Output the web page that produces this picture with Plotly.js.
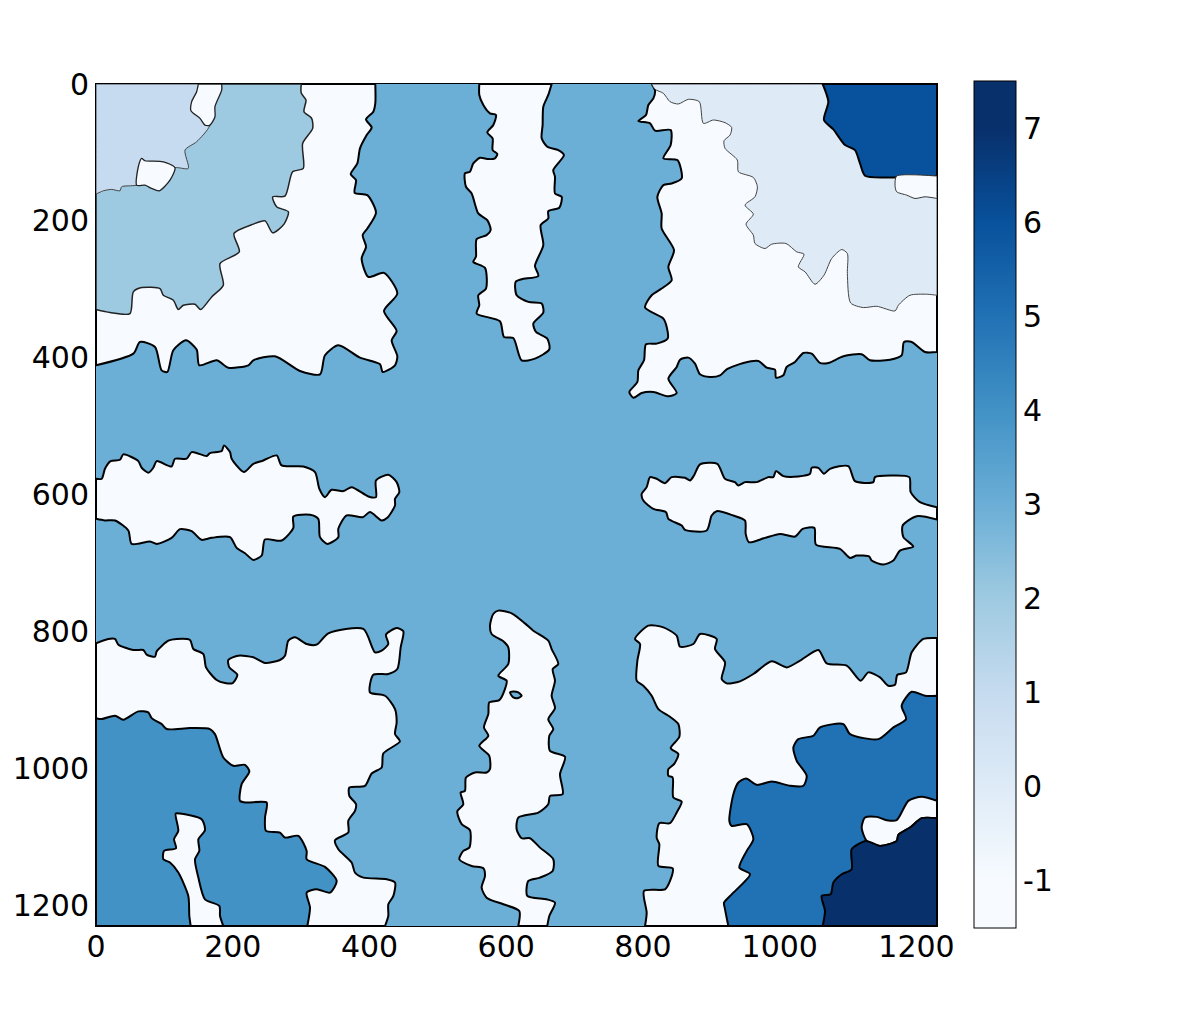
<!DOCTYPE html>
<html>
<head>
<meta charset="utf-8">
<script src="https://cdn.plot.ly/plotly-3.0.1.min.js"></script>
<style>
  html, body { margin: 0; padding: 0; background: #fff; }
</style>
</head>
<body>
<div id="chart" style="width:1196px;height:1009px"></div>
<script>
// Region outlines, as [x, y] in image units
const whiteTopLeft = [[408.5,0],[408.5,28],[405.6,40.4],[394.9,51.7],[403.2,63.4],[395.9,74.6],[386.1,94],[382.2,116],[372.5,131.6],[380.3,140.4],[378.3,158.9],[396.8,162.3],[409.5,188.2],[396.8,211.1],[390,220.8],[394.9,237.9],[388.5,254.9],[398.3,281.8],[421.2,275.9],[440.7,306.1],[421.2,331.5],[439.7,360.7],[432.4,374.4],[440.7,397.8],[437.3,410.9],[419.3,420.7],[415.4,409.5],[386.1,399.7],[354.4,381.7],[334.9,396.3],[327.6,424.1],[298.4,419.2],[261.8,397.8],[230.1,403.6],[222.8,410.9],[193.5,414.4],[176.5,403.6],[151.1,410.9],[147.2,388],[131.6,374.4],[113.1,389],[104.3,420.7],[96,418.3],[86.3,384.1],[64.4,376.8],[54.6,393.9],[0,410.9],[0,0]];
const level2TopLeft = [[0,329.5],[20.5,333.9],[49.7,335.4],[54.6,303.7],[66.8,297.4],[93.6,298.8],[98.5,308.6],[113.1,315.9],[120.4,329.5],[127.7,323.2],[144.8,321.7],[153.1,329.5],[169.2,311],[186.2,293.9],[181.4,262.3],[209.6,245.2],[201.8,218.4],[230.1,204.7],[247.2,199.9],[258.4,217.4],[275,204.7],[281.3,186.7],[264.2,179.4],[258.4,164.8],[276.4,163.8],[287.6,128.2],[303.2,123.3],[302.2,86.8],[316.9,64.8],[315.4,50.2],[304.2,40.4],[307.1,23.4],[300.3,13.6],[300.3,0],[0,0]];
const level1TopLeft = [[0,0],[166.7,0],[166.7,60],[147.2,84.3],[130.2,96.5],[135,123.3],[115.5,122.3],[59.5,147.7],[37.5,150.1],[35.1,156],[22.9,154],[10.7,156],[0,160.9]];
const whiteNotch = [[149.7,0],[147.2,11.2],[139.9,25.8],[138.9,39],[152.1,50.2],[159.4,60],[166.7,60],[174,47.8],[174,33.1],[183.8,8.8],[183.8,0]];
const whiteIsland = [[66.8,108.7],[71.7,112.1],[98.5,113.6],[115.5,122.3],[108.2,140.4],[92.6,156],[81.4,152.6],[71.7,147.7],[59.5,147.7],[61.9,120.9]];

const whiteTopRight = [[812.7,0],[817.6,9.7],[815.2,20.9],[807.8,30.7],[804.4,45.3],[793.2,54.1],[810.3,57.5],[817.6,68.2],[840.5,67.3],[840.5,89.2],[829.8,108.7],[850.3,111.1],[856.6,137.9],[842,145.3],[829.8,147.7],[821,164.8],[827.3,189.1],[827.3,211.1],[845.4,242.8],[837.1,267.1],[842,286.6],[827.3,298.8],[812.7,308.6],[803,326.6],[829.8,342.7],[834.7,354.9],[836.1,371.9],[820,379.3],[804.4,380.2],[801.5,403.6],[793.2,418.3],[791.8,435.3],[780,449.9],[785.9,458.2],[798.1,451.4],[815.2,449.9],[837.1,456.3],[849.3,451.4],[837.1,430.4],[849.3,413.4],[854.2,402.7],[866.3,399.7],[876.1,408.5],[883.4,424.1],[898,428],[912.7,425.6],[922.4,416.8],[946.8,407.5],[968.7,404.6],[980.9,414.4],[993.1,417.3],[994.5,428.9],[1005.3,425.6],[1010.1,413.4],[1022.3,406],[1034.5,392.9],[1046.7,393.9],[1058.9,407.5],[1071.1,407.5],[1093,397.8],[1119.8,394.9],[1132,403.6],[1161.3,402.7],[1178.3,396.3],[1181.7,376.8],[1193,376.8],[1212.5,391.4],[1230,391.4],[1230,0]];
const level0TopRight = [[812.7,0],[817.6,7.8],[829.8,13.6],[839.5,25.8],[851.7,29.2],[866.3,22.4],[882.4,25.8],[888.3,57.5],[902.9,52.6],[920,56.5],[929.7,63.4],[927.3,74.6],[918.5,82.9],[920,94],[938,111.1],[939.5,128.2],[961.4,136.5],[967.3,150.1],[963.8,164.8],[949.2,176.9],[961.4,190.1],[950.7,204.7],[961.4,220.8],[963.8,233],[978.5,240.3],[988.2,234],[1009.2,233],[1024.8,245.2],[1035.5,248.6],[1027.2,267.1],[1037,274.4],[1051.6,292.5],[1064.7,279.3],[1076,254.9],[1090.6,241.8],[1098.9,247.6],[1098.9,276.9],[1103.7,319.8],[1122.3,326.6],[1141.8,324.7],[1168.6,331.5],[1173.5,323.2],[1190.5,308.6],[1214.9,307.1],[1230,308.6],[1230,0]];
const level6TopRight = [[1062.8,0],[1071.1,25.8],[1064.7,52.6],[1078.4,66.3],[1095.5,89.2],[1110.1,96.5],[1117.4,116],[1124.7,134],[1156.4,136.5],[1230,134.5],[1230,0]];
const whiteStripTop = [[1171,134.5],[1168.6,147.7],[1171,157.4],[1185.6,162.3],[1197.8,167.2],[1212.5,164.8],[1230,167.2],[1230,134.5]];

const whiteBottomLeft = [[0,817],[18,810.7],[27.8,810.7],[32.7,819],[54.6,826.8],[69.2,826.8],[74.1,833.6],[86.3,836.6],[88.7,828.8],[105.8,813.2],[118,810.7],[137.5,812.2],[142.4,825.3],[157,832.7],[160.9,852.2],[176.5,870.7],[188.7,875.1],[199.9,875.1],[206.7,862.9],[195,852.2],[193.5,841.4],[208.2,835.1],[230.1,837.5],[247.2,845.8],[269.1,841.4],[276.4,835.1],[281.3,813.2],[291,808.3],[308.1,818],[322.7,819],[339.8,802.4],[391,796.1],[408,830.2],[417.8,827.8],[427.5,818],[424.1,804.4],[439.7,794.6],[449.5,799.5],[445.6,822.9],[440.7,854.6],[427.5,861.9],[405.6,862.9],[400.7,888.7],[422.7,893.6],[437.3,913.1],[439.7,932.6],[437.3,949.7],[444.6,960.4],[420.2,977.9],[417.8,998.4],[403.2,1007.2],[393.4,1025.2],[370.5,1027.7],[370.5,1039.8],[380.3,1052],[378.8,1061.8],[369,1076.4],[369,1093.5],[349.5,1104.7],[354.4,1117.8],[373.9,1137.3],[378.8,1152],[391,1159.3],[425.1,1161.7],[437.3,1166.6],[434.9,1186.1],[427.5,1198.3],[427.5,1215.3],[422.7,1230],[0,1230]];
const level4BottomLeft = [[0,926.3],[8.3,927.7],[27.8,922.8],[40,928.7],[61.9,916.5],[76.5,918],[81.4,926.3],[96,935],[103.4,942.3],[137.5,940.9],[166.7,942.3],[174,949.7],[186.2,983.8],[200.9,996],[217.9,994.5],[224.3,1004.3],[213,1022.8],[210.6,1047.2],[220.4,1049.6],[249.6,1049.6],[247.2,1071.5],[248.6,1091],[269.1,1093.5],[276.4,1100.8],[295.9,1098.3],[308.1,1120.3],[308.1,1132.5],[334.9,1143.7],[352,1164.2],[342.2,1181.2],[322.7,1176.3],[308.1,1181.2],[313,1203.1],[309.1,1230],[0,1230]];
const whiteSliver = [[116.5,1065.7],[122.9,1065.7],[154.5,1074],[159.4,1090],[149.7,1103.2],[151.1,1120.3],[144.8,1132.5],[149.7,1159.3],[159.4,1191],[180.4,1200.7],[181.4,1215.3],[186.2,1230],[138.5,1230],[136.5,1215.3],[135,1186.1],[120.4,1152],[108.2,1137.3],[98.5,1132.5],[99.5,1120.3],[117,1116.4],[114.1,1103.2],[120.4,1091]];

const whiteBottomRight = [[803,1230],[805.4,1210.5],[801.5,1178.8],[832.2,1176.4],[839.5,1164.2],[843.4,1145.7],[822.5,1142.2],[823.9,1110.6],[820,1100.8],[823.9,1079.8],[839.5,1079.8],[849.3,1064.2],[856.6,1048.2],[844.4,1042.3],[843.4,1013.1],[837.1,1010.6],[837.1,1000.9],[845.4,993.6],[851.7,978.9],[840.5,970.2],[853.2,953.6],[851.7,935],[839.5,924.3],[822.5,913.1],[812.7,893.6],[800.5,879],[790.8,871.7],[791.8,842.4],[795.7,818],[788.3,810.7],[807.8,791.2],[829.8,793.7],[849.3,805.9],[854.2,822],[873.7,818.1],[883.4,803.4],[907.8,810.7],[905.3,825.4],[920,844.9],[915.1,869.2],[922.4,875.6],[941.9,872.6],[961.4,861.9],[988.2,843.4],[1010.1,852.2],[1029.7,842.4],[1056.5,826.8],[1068.7,846.3],[1097.9,849.7],[1118.4,871.7],[1129.6,859.5],[1146.7,866.8],[1158.8,879],[1168.6,877.5],[1172,862.9],[1184.7,859.5],[1193,830.2],[1210,810.7],[1230,809.3],[1230,1230]];
const level5BottomRight = [[924.8,1230],[920,1205.6],[918.5,1195.9],[929.7,1183.7],[956.5,1154.4],[940.9,1144.7],[951.7,1120.3],[961.4,1103.2],[951.7,1081.3],[929.7,1083.7],[926.3,1076.4],[932.2,1037.4],[939.5,1020.4],[950.7,1014.5],[966.3,1023.8],[988.2,1018.9],[1015,1025.2],[1034.5,1025.2],[1039.4,1010.6],[1024.8,988.7],[1019.9,969.2],[1027.2,957],[1049.2,952.1],[1058.9,939.9],[1093,935],[1102.8,949.7],[1144.2,957],[1166.2,939.9],[1184.7,927.7],[1178.3,908.2],[1193,887.8],[1212.5,893.6],[1230,893.6],[1230,1230]];
const whiteStripBottom = [[1124.7,1071.6],[1141.8,1070.6],[1156.4,1075.4],[1171,1075.4],[1188.1,1047.2],[1207.6,1041.3],[1230,1047.2],[1230,1072.5],[1207.6,1072.5],[1190.5,1086.2],[1173.5,1096.9],[1171,1105.7],[1146.7,1113],[1127.2,1105.7],[1119.8,1086.2]];
const level7BottomRight = [[1062.8,1230],[1066.2,1208],[1061.3,1186.1],[1074.5,1183.7],[1078.4,1166.6],[1090.6,1154.4],[1105.2,1147.1],[1105.2,1117.9],[1126.2,1105.7],[1146.7,1113],[1171,1105.7],[1173.5,1096.9],[1190.5,1086.2],[1207.6,1072.5],[1230,1072.5],[1230,1230]];

const whiteFingerTop = [[560.6,0],[560.6,16],[566.5,30.7],[576.2,42.9],[585,45.3],[581.1,59.9],[572.3,70.7],[580.1,79.4],[580.1,96.5],[586.9,102.3],[583.5,108.7],[573.8,109.7],[561.6,107.7],[551.8,116],[546.9,128.2],[539.6,130.6],[541.1,150.1],[549.4,159.9],[559.1,189.1],[572.3,198.9],[577.2,213.5],[571.3,220.8],[556.7,226.7],[555.7,252.5],[551.8,259.8],[568.9,268.6],[570.4,298.8],[559.1,308.6],[560.6,323.2],[556.7,335.4],[590.8,346.6],[596.7,369.5],[610.3,371],[622.5,403.6],[642,401.2],[663,387.5],[660,371.9],[643.5,362.2],[639.6,350],[654.2,333.9],[651.8,320.7],[632.3,318.3],[615.2,308.6],[613.7,289.1],[622.5,285.2],[646.9,280.3],[642,265.7],[654.2,235.4],[650.3,206.2],[661.5,196.4],[661.5,185.7],[677.6,180.8],[681,164.7],[671.3,159.9],[671.3,135.5],[668.8,125.7],[684.4,103.8],[676.1,96.5],[660,91.6],[651.8,79.4],[653.2,59.9],[654.2,33.1],[661.5,16],[666.4,0]];
const whiteFingerBottom = [[581,774.2],[576.2,791.3],[578.6,803.5],[595.7,814.2],[603,823],[603,847.3],[588.4,864.4],[600.6,871.7],[598.1,883.9],[589.9,900],[575.2,903.4],[573.8,920.5],[567.4,940],[573.8,952.1],[560.6,966.8],[575.2,981.4],[576.2,1000.9],[571.3,1005.8],[554.3,1005.8],[541.1,1013.1],[539.6,1032.6],[533.3,1035],[537.2,1052.1],[528.4,1062.8],[534.8,1081.3],[547,1090.1],[546,1115.5],[537.2,1120.3],[531.4,1132.5],[549.4,1142.3],[566.5,1145.7],[568.9,1156.9],[564,1174],[571.3,1188.6],[595.7,1198.3],[619.1,1208.1],[617.6,1230],[660,1230],[663,1215.4],[671.3,1195.9],[659,1191],[630.8,1186.1],[632.3,1164.2],[649.3,1159.3],[667.9,1149.6],[668.8,1132.5],[649.3,1115.5],[634.7,1101.8],[622.5,1101.8],[615.2,1088.6],[617.6,1071.6],[646.9,1064.3],[661.5,1052.1],[664,1039.9],[682.5,1037.5],[678.6,1008.2],[686,982.9],[664,974.1],[663,952.1],[668.8,942.4],[661.5,927.8],[671.3,911.7],[666.4,893.6],[671.3,871.7],[667.9,854.6],[676.1,847.3],[666.4,825.4],[661.5,813.2],[639.6,798.6],[627.4,787.9],[607.9,773.2],[588.4,769.3]];
const level3Speck = [[605.5,888.8],[610.3,887.3],[617.6,888.8],[622.5,893.6],[617.6,897],[610.3,896.1]];

const whiteFingerLeft = [[0,576.7],[8.3,576.7],[13.1,562.1],[21.4,550.9],[35.1,548.9],[40,541.1],[61.9,550.9],[66.8,560.6],[76.5,567.9],[83.8,560.6],[88.7,550.9],[110.6,558.7],[115.5,547.4],[132.6,547.4],[139.9,537.7],[161.8,543.5],[166.7,539.2],[183.8,536.2],[187.2,527.9],[196,537.7],[198.4,547.4],[216.4,566.9],[230.1,554.8],[244.7,549.9],[264.2,542.6],[271.5,557.2],[303.2,558.7],[320.3,566.9],[326.6,591.3],[334.9,603.5],[344.6,592.8],[361.7,594.7],[373.9,588.9],[398.3,602.5],[409.5,603.5],[409.5,579.1],[427.5,570.8],[439.7,581.6],[443.6,596.2],[437.3,605.9],[437.3,615.7],[426,633.7],[417.8,637.6],[400.7,625.4],[390,632.8],[366.6,630.3],[354.4,649.8],[354.4,662],[338.3,671.8],[327.6,662],[325.1,635.2],[313,629.3],[288.6,631.8],[288.6,648.4],[271.5,666.9],[247.1,665.4],[242.3,688.8],[230.1,695.2],[217.9,685.4],[205.7,677.6],[196,662],[169.1,663],[154.5,665.9],[139.9,653.2],[122.8,650.3],[110.6,663],[88.7,671.8],[79,668.3],[52.1,671.8],[47.3,652.3],[27.8,637.6],[13.1,637.6],[0,635.2]];
const whiteFingerRight = [[810.3,574.3],[820,576.7],[832.2,583.1],[841.9,574.3],[861.4,575.3],[868.8,579.2],[874.6,571.9],[883.4,555.8],[908.7,554.8],[919.9,576.7],[934.6,581.6],[939.4,586.5],[949.2,581.6],[966.3,581.6],[983.3,574.3],[990.6,574.3],[994.5,565.5],[1005.3,572.8],[1027.2,573.3],[1044.3,569.4],[1046.7,560.7],[1056.4,560.7],[1064.7,569.4],[1073.5,562.1],[1100.3,558.2],[1110.1,580.2],[1136.9,581.6],[1139.3,574.3],[1161.3,571.9],[1189.5,574.3],[1191.5,596.2],[1205.1,610.9],[1230,618.2],[1230,636.2],[1200.3,631.3],[1179.8,645],[1180.8,662],[1195.4,675.7],[1175.9,681.6],[1166.1,696.2],[1151.5,702],[1134.4,696.2],[1131,690.3],[1112.5,688.9],[1102.8,692.3],[1088.1,679.1],[1053,672.8],[1050.6,648.4],[1033.5,649.9],[1022.3,661.1],[1000.4,657.2],[978.4,663],[955,669.4],[950.2,657.2],[949.2,637.7],[932.1,630.4],[907.8,624],[900.4,630.4],[893.1,652.3],[861.4,651.3],[856.6,645],[837.1,635.2],[833.7,625.5],[815.1,620.6],[800.5,608.4],[798.1,598.7],[805.4,588.9]];

const imageSize = 1230;
const backgroundLabel = [[3]];
const labels = [-1, 0, 1, 2, 3, 4, 5, 6, 7];
const blues = ['#f7fbff', '#deebf7', '#c6dbef', '#9ecae1', '#6baed6', '#4292c6', '#2171b5', '#08519c', '#08306b'];
const axisTicks = [0, 200, 400, 600, 800, 1000, 1200];

const zMin = -1.5;
const zMax = 7.5;

const colorOf = (label) => blues[labels.indexOf(label)];

// Colorbar runs from -1.5 to 7.5, each label sits on its own colour
const colorscale = [[0, blues[0]]];
labels.forEach((label, i) => colorscale.push([(label - zMin) / (zMax - zMin), blues[i]]));
colorscale.push([1, blues[blues.length - 1]]);

// Points on the image border are doubled so the spline keeps a sharp corner there
function onBorder(p) {
    return p[0] === 0 || p[1] === 0 || p[0] === imageSize || p[1] === imageSize;
}

function regionTrace(points, label, lineWidth, lineColor) {
    const closed = [];
    points.concat([points[0]]).forEach(p => {
        closed.push(p);
        if (onBorder(p)) closed.push(p);
    });
    return {
        x: closed.map(p => p[0]),
        y: closed.map(p => p[1]),
        type: 'scatter',
        mode: 'lines',
        fill: 'toself',
        fillcolor: colorOf(label),
        line: { color: lineColor || 'black', width: lineWidth, shape: 'spline', smoothing: 0.7, simplify: false },
        hoverinfo: 'skip',
        showlegend: false
    };
}

const data = [
    {
        z: backgroundLabel,
        x0: imageSize / 2,
        dx: imageSize,
        y0: imageSize / 2,
        dy: imageSize,
        type: 'heatmap',
        zmin: zMin,
        zmax: zMax,
        colorscale: colorscale,
        hoverinfo: 'skip',
        colorbar: {
            thickness: 42,
            thicknessmode: 'pixels',
            len: 847,
            lenmode: 'pixels',
            x: 1.0445,
            xanchor: 'left',
            xpad: 0,
            y: 1.0036,
            yanchor: 'top',
            ypad: 0,
            outlinewidth: 1,
            outlinecolor: 'black',
            tickmode: 'array',
            tickvals: labels,
            ticktext: labels.map(String),
            ticks: '',
            tickfont: { family: 'DejaVu Sans', size: 30, color: 'black' }
        }
    },
    regionTrace(whiteTopLeft, -1, 2),
    regionTrace(level2TopLeft, 2, 1.5, '#222'),
    regionTrace(level1TopLeft, 1, 1, '#444'),
    regionTrace(whiteNotch, -1, 1.3, '#222'),
    regionTrace(whiteIsland, -1, 1.3, '#222'),
    regionTrace(whiteTopRight, -1, 2),
    regionTrace(level0TopRight, 0, 1, '#444'),
    regionTrace(level6TopRight, 6, 2),
    regionTrace(whiteStripTop, -1, 1, '#333'),
    regionTrace(whiteBottomLeft, -1, 2),
    regionTrace(level4BottomLeft, 4, 2),
    regionTrace(whiteSliver, -1, 2),
    regionTrace(whiteBottomRight, -1, 2),
    regionTrace(level5BottomRight, 5, 2),
    regionTrace(whiteStripBottom, -1, 2),
    regionTrace(level7BottomRight, 7, 2),
    regionTrace(whiteFingerTop, -1, 2),
    regionTrace(whiteFingerBottom, -1, 2),
    regionTrace(level3Speck, 3, 2),
    regionTrace(whiteFingerLeft, -1, 2),
    regionTrace(whiteFingerRight, -1, 2)
];

const axisBase = {
    tickmode: 'array',
    tickvals: axisTicks,
    ticks: '',
    showgrid: false,
    zeroline: false,
    showline: true,
    mirror: true,
    linecolor: 'black',
    linewidth: 1,
    tickfont: { family: 'DejaVu Sans', size: 30, color: 'black' }
};

const layout = {
    width: 1196,
    height: 1009,
    margin: { l: 96, r: 258.5, t: 84, b: 83, autoexpand: false },
    paper_bgcolor: 'white',
    plot_bgcolor: 'white',
    showlegend: false,
    xaxis: Object.assign({}, axisBase, { range: [0, imageSize], side: 'bottom', ticklabelstandoff: -6 }),
    yaxis: Object.assign({}, axisBase, { range: [imageSize, 0] })
};

Plotly.newPlot('chart', data, layout, { displayModeBar: false, responsive: false });
</script>
</body>
</html>
